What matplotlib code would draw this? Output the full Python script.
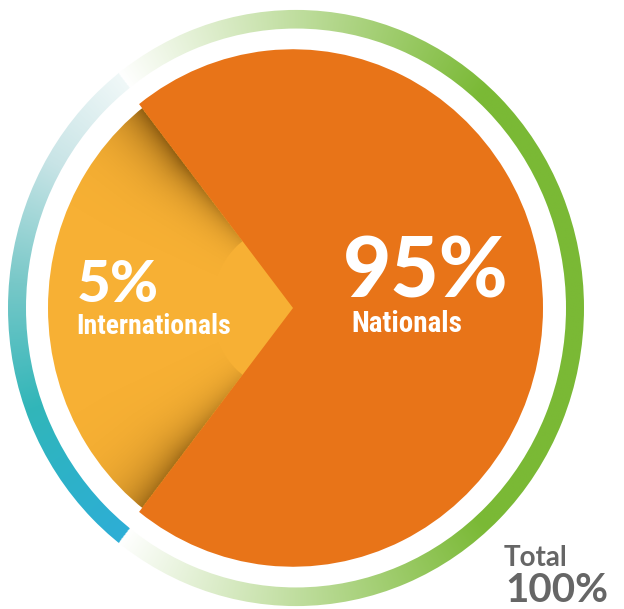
"""
share of nationals vs internationals - donut style infographic
"""

import numpy as np
import matplotlib.pyplot as plt
from matplotlib.patches import Wedge, Circle
from matplotlib.colors import to_rgb

# values
# --------------------------
labels = ["Internationals", "Nationals"]
shares = [5, 95]
total_label = "Total"
total_value = 100

# colours
orange = "#E87418"
yellow = "#F7B034"
green = "#7AB935"
grey = "#666666"
shadow_rgb = (0.35, 0.2, 0.0)

# the picture is drawn a bit taller than wide
stretch = 1.035
x_lim = (-296, 328)
y_lim = (-301 / stretch, 308 / stretch)

# cut-out angles of the small slice (drawn wider than its share, as in the original)
cut_from, cut_to = 128, 232
pie_center = (-3, 0)

fig = plt.figure(figsize=(6.24, 6.09), dpi=100)
ax = fig.add_axes([0, 0, 1, 1])
ax.set_xlim(*x_lim)
ax.set_ylim(*y_lim)
ax.axis("off")

# grid used for the gradients
xs = np.linspace(x_lim[0], x_lim[1], 900)
ys = np.linspace(y_lim[0], y_lim[1], 900)
X, Y = np.meshgrid(xs, ys)
extent = (x_lim[0], x_lim[1], y_lim[0], y_lim[1])

# outer ring with colour gradient
# --------------------------
theta = np.degrees(np.arctan2(Y, X))
t = np.clip((1 - np.abs(theta) / cut_from) * 1.6, 0, 1)
g = np.array(to_rgb(green))
ring = np.ones(X.shape + (4,))
ring[..., :3] = 1 - t[..., None] * (1 - g)

left = np.abs(theta) > cut_from
phi = np.mod(theta, 360)
stop_ang = [128, 150, 175, 200, 215, 232]
stop_col = [(240, 248, 248), (200, 228, 230), (120, 200, 200),
            (50, 182, 185), (45, 178, 200), (46, 174, 214)]
for k in range(3):
    ring[..., k] = np.where(left, np.interp(phi, stop_ang, [c[k] / 255 for c in stop_col]), ring[..., k])

im = ax.imshow(ring, extent=extent, origin="lower", aspect="auto", zorder=1, interpolation="bilinear")
annulus = Wedge((0, 0), 288, 0, 360, width=18, transform=ax.transData)
im.set_clip_path(annulus)

# small slice (yellow) with shadow of the big slice
# --------------------------
ax.add_patch(Wedge(pie_center, 245, 115, 245, facecolor=yellow, edgecolor="none", zorder=2))

VX, VY = X - pie_center[0], Y - pie_center[1]
a1, a2 = np.radians(cut_from), np.radians(cut_to)
s1 = VX * np.cos(a1) + VY * np.sin(a1)
d1 = np.cos(a1) * VY - np.sin(a1) * VX
s2 = VX * np.cos(a2) + VY * np.sin(a2)
d2 = -(np.cos(a2) * VY - np.sin(a2) * VX)


def fall_off(s, d):
    w = 5 + 0.08 * np.clip(s, 0, None)
    return np.where(d >= 0, np.exp(-np.clip(d, 0, None) / w), 0) * np.clip((s - 30) / 150, 0, 1)


shade = np.zeros(X.shape + (4,))
shade[..., :3] = shadow_rgb
shade[..., 3] = 0.65 * np.maximum(fall_off(s1, d1), 0.8 * fall_off(s2, d2))
sh = ax.imshow(shade, extent=extent, origin="lower", aspect="auto", zorder=3, interpolation="bilinear")
sh.set_clip_path(Wedge(pie_center, 245, 115, 245, transform=ax.transData))

ax.add_patch(Circle(pie_center, 82, facecolor=yellow, edgecolor="none", zorder=4))

# big slice (orange)
# --------------------------
ax.add_patch(Wedge(pie_center, 250, cut_to - 360, cut_from, facecolor=orange, edgecolor="none", zorder=5))

# labels
# --------------------------
num_font = ["Lato", "DejaVu Sans"]
narrow_font = ["Roboto Condensed", "Liberation Sans Narrow", "DejaVu Sans"]

ax.text(47, 10.6, f"{shares[1]}%", color="white", fontsize=60, fontweight=900,
        family=num_font, ha="left", va="baseline", zorder=6)
ax.text(55, -23.2, labels[1], color="white", fontsize=21, fontweight="bold",
        family=narrow_font, ha="left", va="baseline", zorder=6)
ax.text(-219, 5.8, f"{shares[0]}%", color="white", fontsize=42, fontweight=900,
        family=num_font, ha="left", va="baseline", zorder=6)
ax.text(-220, -25.1, labels[0], color="white", fontsize=20, fontweight="bold",
        family=narrow_font, ha="left", va="baseline", zorder=6)

ax.text(208, -249, total_label, color=grey, fontsize=20, fontweight="bold",
        family=num_font, ha="left", va="baseline", zorder=6)
ax.text(209, -284.5, f"{total_value}%", color=grey, fontsize=29, fontweight="bold",
        family=num_font, ha="left", va="baseline", zorder=6)

fig.savefig("out.png", dpi=100, facecolor="white")
